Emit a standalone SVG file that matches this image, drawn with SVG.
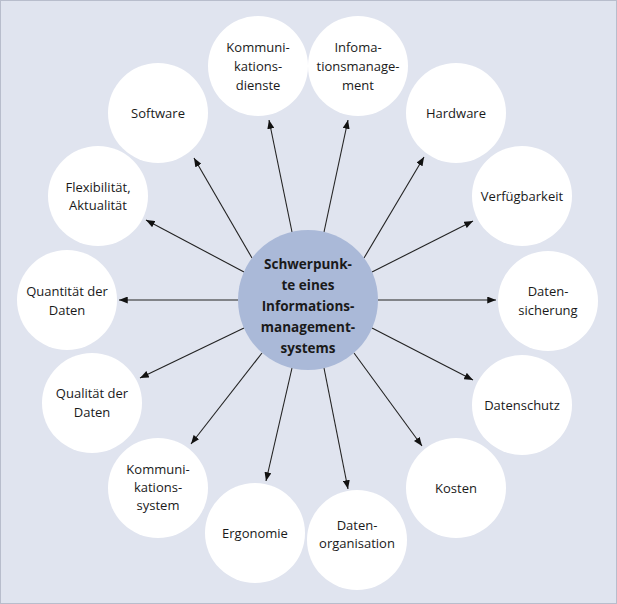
<svg xmlns="http://www.w3.org/2000/svg" width="617" height="604" viewBox="0 0 617 604">
<style>
.o{fill:#fff}
.t{font-family:"Open Sans","DejaVu Sans",sans-serif;font-size:13px;fill:#1a1a1a;text-anchor:middle}
.c{font-family:"Open Sans","DejaVu Sans",sans-serif;font-size:13.5px;font-weight:bold;fill:#1a1a1a;text-anchor:middle}
line{stroke:#222;stroke-width:1.1;marker-end:url(#a)}
</style>
<defs><marker id="a" viewBox="0 0 10 8" refX="10" refY="4" markerWidth="9" markerHeight="7" markerUnits="userSpaceOnUse" orient="auto"><path d="M0,0L10,4L0,8z" fill="#111"/></marker></defs>
<rect x="0.5" y="0.5" width="616" height="603" fill="#e0e4ef" stroke="#b8bdcc"/>
<g id="connectors">
<line x1="292" y1="232" x2="269" y2="120"/>
<line x1="324" y1="232" x2="348" y2="120"/>
<line x1="252" y1="258" x2="194" y2="158"/>
<line x1="364" y1="258" x2="424" y2="157"/>
<line x1="244" y1="272" x2="146" y2="220"/>
<line x1="372" y1="272" x2="473" y2="221"/>
<line x1="238" y1="300" x2="119" y2="300"/>
<line x1="378" y1="300" x2="496" y2="300"/>
<line x1="244" y1="328" x2="140" y2="378"/>
<line x1="372" y1="328" x2="473" y2="380"/>
<line x1="262" y1="353" x2="191" y2="444"/>
<line x1="354" y1="353" x2="422" y2="446"/>
<line x1="292" y1="368" x2="266" y2="481"/>
<line x1="324" y1="368" x2="348" y2="489"/>
</g>
<g id="center"><circle cx="308" cy="300" r="70" fill="#aab9d8"/>
<text class="c" x="308" y="269">Schwerpunk-</text><text class="c" x="308" y="290">te eines</text><text class="c" x="308" y="311">Informations-</text><text class="c" x="308" y="332">management-</text><text class="c" x="308" y="343" dy="10">systems</text></g>
<g id="n1"><circle class="o" cx="258" cy="66" r="50"/><text class="t" x="258" y="52">Kommuni-</text><text class="t" x="258" y="71">kations-</text><text class="t" x="258" y="90">dienste</text></g>
<g id="n2"><circle class="o" cx="358" cy="66" r="50"/><text class="t" x="358" y="52">Infoma-</text><text class="t" x="358" y="71">tionsmanage-</text><text class="t" x="358" y="90">ment</text></g>
<g id="n3"><circle class="o" cx="158" cy="113" r="50"/><text class="t" x="158" y="118">Software</text></g>
<g id="n4"><circle class="o" cx="456" cy="113" r="50"/><text class="t" x="456" y="118">Hardware</text></g>
<g id="n5"><circle class="o" cx="98" cy="196" r="50"/><text class="t" x="98" y="192">Flexibilität,</text><text class="t" x="98" y="210">Aktualität</text></g>
<g id="n6"><circle class="o" cx="522" cy="196" r="50"/><text class="t" x="522" y="201">Verfügbarkeit</text></g>
<g id="n7"><circle class="o" cx="67" cy="300" r="50"/><text class="t" x="67" y="296">Quantität der</text><text class="t" x="67" y="315">Daten</text></g>
<g id="n8"><circle class="o" cx="548" cy="301" r="50"/><text class="t" x="548" y="296">Daten-</text><text class="t" x="548" y="315">sicherung</text></g>
<g id="n9"><circle class="o" cx="92" cy="403" r="50"/><text class="t" x="92" y="398">Qualität der</text><text class="t" x="92" y="417">Daten</text></g>
<g id="n10"><circle class="o" cx="522" cy="405" r="50"/><text class="t" x="522" y="410">Datenschutz</text></g>
<g id="n11"><circle class="o" cx="158" cy="488" r="50"/><text class="t" x="158" y="474">Kommuni-</text><text class="t" x="158" y="492">kations-</text><text class="t" x="158" y="510">system</text></g>
<g id="n12"><circle class="o" cx="456" cy="488" r="50"/><text class="t" x="456" y="493">Kosten</text></g>
<g id="n13"><circle class="o" cx="255" cy="533" r="50"/><text class="t" x="255" y="538">Ergonomie</text></g>
<g id="n14"><circle class="o" cx="357" cy="540" r="50"/><text class="t" x="357" y="530">Daten-</text><text class="t" x="357" y="548">organisation</text></g>
</svg>
